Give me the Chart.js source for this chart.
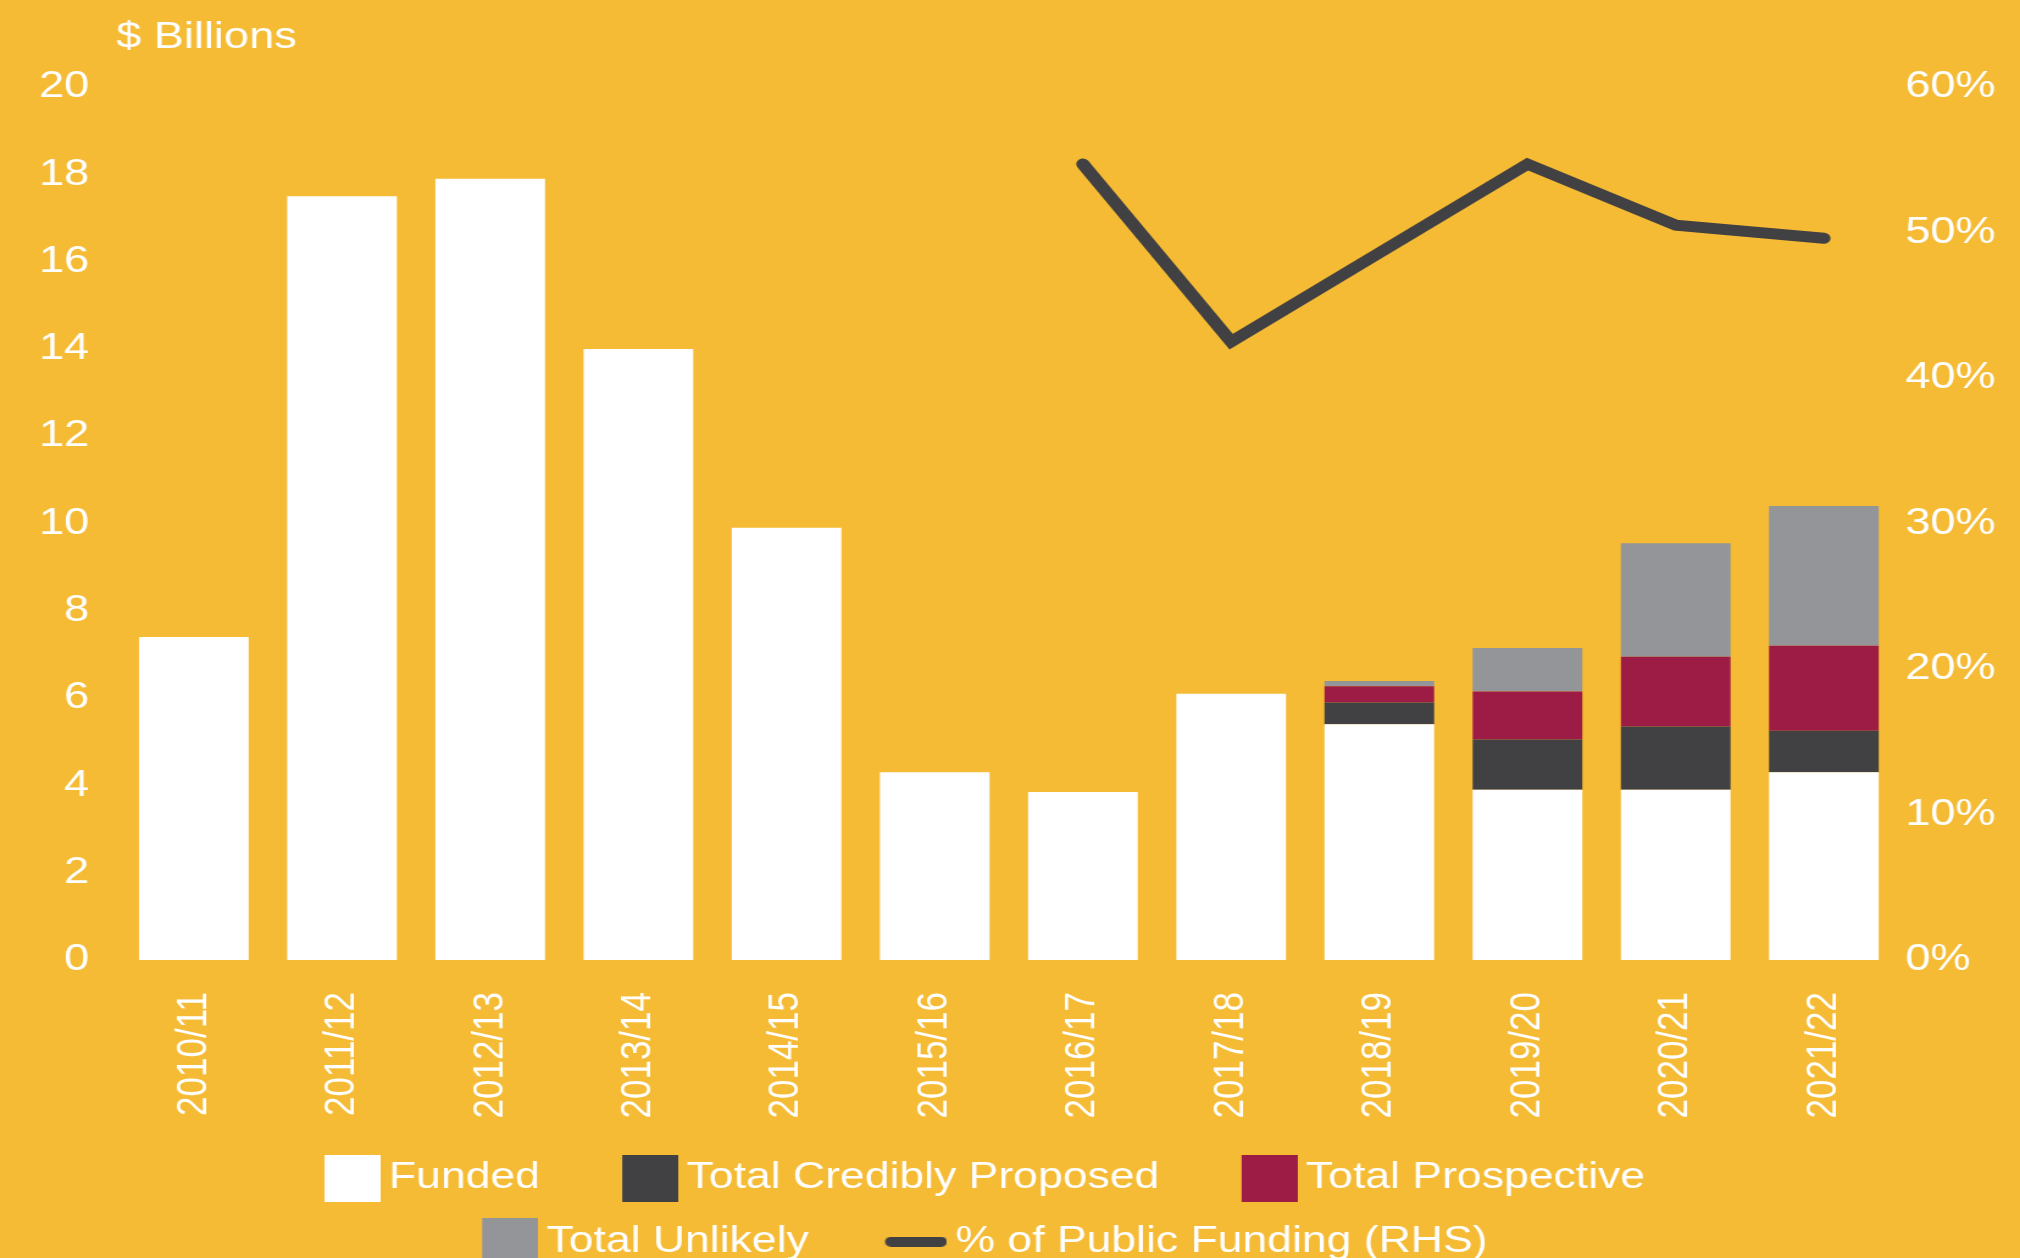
<!DOCTYPE html>
<html>
<head>
<meta charset="utf-8">
<title>Infrastructure Funding</title>
<script src="https://cdn.jsdelivr.net/npm/chart.js@4.4.1/dist/chart.umd.min.js"></script>
<style>
  html, body { margin: 0; padding: 0; background: #F5BB35; overflow: hidden; }
  #fundingChart { display: block; }
</style>
</head>
<body>
<!-- drawn 1656 wide, then widened to fill the page -->
<canvas id="fundingChart" width="1656" height="1258" style="width: 2020px; height: 1258px;"></canvas>
<script>

// DATA #######################################################################

var years = ["2010/11", "2011/12", "2012/13", "2013/14", "2014/15", "2015/16",
             "2016/17", "2017/18", "2018/19", "2019/20", "2020/21", "2021/22"];

// $ billions
var funded      = [7.4, 17.5, 17.9, 14.0, 9.9, 4.3, 3.85, 6.1, 5.4, 3.9, 3.9, 4.3];
var credibly    = [null, null, null, null, null, null, null, null, 0.5, 1.15, 1.45, 0.95];
var prospective = [null, null, null, null, null, null, null, null, 0.37, 1.1, 1.6, 1.95];
var unlikely    = [null, null, null, null, null, null, null, null, 0.12, 1.0, 2.6, 3.2];

// % of public funding, right hand scale
var publicShare = [null, null, null, null, null, null, 54.7, 42.5, 48.6, 54.7, 50.5, 49.6];

var billionTicks = [0, 20, 2];
var percentTicks = [0, 60, 10];


// COLOURS ####################################################################

var background = "#F5BB35";
var textColour = "#FFFFFF";
var colours = {
    funded: "#FFFFFF",
    credibly: "#414042",
    prospective: "#9D1C45",
    unlikely: "#939598",
    line: "#414042"
};

var fontFamily = "'Liberation Sans', Helvetica, Arial, sans-serif";
var legendFontSize = 36.5;
var legendBoxWidth = 75;


// LEGEND SWATCHES ############################################################

// The legend centres each swatch in its box, so the swatch canvas is made
// wider than the box and the mark is drawn at its right end, close to the text.
function swatch(colour, asLine) {
    var w = legendBoxWidth + 23;
    var h = asLine ? 10 : 47;
    var c = document.createElement("canvas");
    c.width = w;
    c.height = h;
    var g = c.getContext("2d");
    if (asLine) {
        g.strokeStyle = colour;
        g.lineWidth = h;
        g.lineCap = "round";
        g.beginPath();
        g.moveTo(w - 51 + h / 2, h / 2);
        g.lineTo(w - h / 2, h / 2);
        g.stroke();
    } else {
        g.fillStyle = colour;
        g.fillRect(w - 46, 0, 46, h);
    }
    return c;
}

var swatches = [
    swatch(colours.funded),
    swatch(colours.credibly),
    swatch(colours.prospective),
    swatch(colours.unlikely),
    swatch(colours.line, true)
];


// PLUGINS ####################################################################

var paintBackground = {
    id: "paintBackground",
    beforeDraw: function (chart) {
        var ctx = chart.ctx;
        ctx.save();
        ctx.fillStyle = background;
        ctx.fillRect(0, 0, chart.width, chart.height);
        ctx.restore();
    }
};

var unitsLabel = {
    id: "unitsLabel",
    afterDraw: function (chart) {
        var ctx = chart.ctx;
        ctx.save();
        ctx.fillStyle = textColour;
        ctx.font = "37px " + fontFamily;
        ctx.textAlign = "left";
        ctx.textBaseline = "alphabetic";
        ctx.fillText("$ Billions", chart.chartArea.left - 3, 48);
        ctx.restore();
    }
};

// nudge the legend a little to the left of the plot centre
var legendShift = {
    id: "legendShift",
    afterLayout: function (chart) {
        if (chart.legend) {
            chart.legend.left -= 40;
            chart.legend.right -= 40;
        }
    }
};


// CHART ######################################################################

function barSet(label, values, colour) {
    return {
        type: "bar",
        label: label,
        data: values,
        backgroundColor: colour,
        borderWidth: 0,
        barPercentage: 0.74,
        categoryPercentage: 1.0,
        yAxisID: "y"
    };
}

var data = {
    labels: years,
    datasets: [
        barSet("Funded", funded, colours.funded),
        barSet("Total Credibly Proposed", credibly, colours.credibly),
        barSet("Total Prospective", prospective, colours.prospective),
        barSet("Total Unlikely", unlikely, colours.unlikely),
        {
            type: "line",
            label: "% of Public Funding (RHS)",
            data: publicShare,
            borderColor: colours.line,
            backgroundColor: colours.line,
            borderWidth: 11,
            borderCapStyle: "round",
            borderJoinStyle: "miter",
            pointRadius: 0,
            tension: 0,
            spanGaps: false,
            yAxisID: "y1"
        }
    ]
};

var fundingChart = new Chart(document.getElementById("fundingChart"), {
    data: data,
    plugins: [paintBackground, unitsLabel, legendShift],
    options: {
        responsive: false,
        animation: false,
        devicePixelRatio: 1,
        layout: {
            padding: { left: 7, right: 14, top: 87, bottom: -12 }
        },
        scales: {
            x: {
                stacked: true,
                grid: { display: false, drawTicks: false },
                border: { display: false },
                ticks: {
                    color: textColour,
                    font: { family: fontFamily, size: 35 },
                    minRotation: 90,
                    maxRotation: 90,
                    autoSkip: false,
                    padding: 32
                },
                afterFit: function (axis) {
                    axis.height = 173;
                }
            },
            y: {
                stacked: true,
                position: "left",
                min: billionTicks[0],
                max: billionTicks[1],
                grid: { display: false, drawTicks: false },
                border: { display: false },
                ticks: {
                    stepSize: billionTicks[2],
                    color: textColour,
                    font: { family: fontFamily, size: 37 },
                    padding: 25
                }
            },
            y1: {
                position: "right",
                min: percentTicks[0],
                max: percentTicks[1],
                grid: { display: false, drawTicks: false },
                border: { display: false },
                ticks: {
                    stepSize: percentTicks[2],
                    color: textColour,
                    font: { family: fontFamily, size: 37 },
                    padding: 6,
                    callback: function (value) { return value + "%"; }
                }
            }
        },
        plugins: {
            tooltip: { enabled: false },
            legend: {
                position: "bottom",
                fullSize: false,
                labels: {
                    color: textColour,
                    font: { family: fontFamily, size: legendFontSize },
                    usePointStyle: true,
                    pointStyleWidth: legendBoxWidth,
                    padding: 27,
                    generateLabels: function (chart) {
                        var items = Chart.defaults.plugins.legend.labels.generateLabels(chart);
                        items.forEach(function (item) {
                            item.pointStyle = swatches[item.datasetIndex];
                        });
                        return items;
                    }
                }
            }
        }
    }
});

</script>
</body>
</html>
